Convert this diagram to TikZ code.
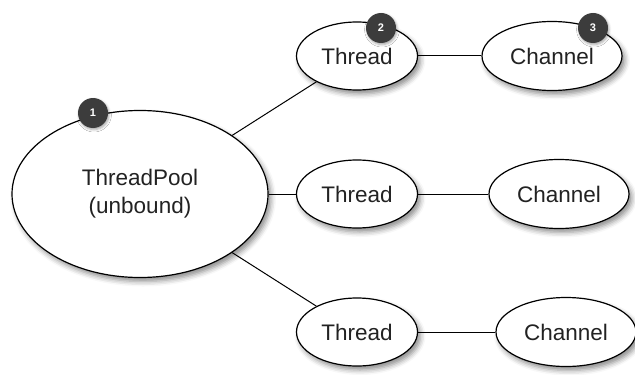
\documentclass[tikz,border=0pt]{standalone}
\usepackage{fontspec}
\setmainfont{Liberation Sans}
\usetikzlibrary{shapes.geometric,shadows.blur}
\definecolor{badgegray}{HTML}{3C3C3C}
\definecolor{inkgray}{HTML}{222222}
\tikzset{
  bubble/.style={ellipse, draw=black, line width=0.6pt, fill=white, text=inkgray,
    inner sep=0pt, font=\fontsize{11.25}{14}\selectfont,
    blur shadow={shadow xshift=1.5pt, shadow yshift=-2pt, shadow blur radius=2.5pt, shadow opacity=45}},
  threadnode/.style={bubble, minimum width=60.5pt, minimum height=34pt},
  channode/.style={bubble, minimum width=70pt, minimum height=34.5pt},
  badge/.style={circle, fill=badgegray, text=white, minimum size=15pt, inner sep=0pt,
    font=\fontsize{5.5}{6}\bfseries\selectfont,
    blur shadow={shadow xshift=0.5pt, shadow yshift=-0.8pt, shadow blur radius=1.2pt, shadow opacity=35}},
  link/.style={draw=black, line width=0.5pt}
}
\begin{document}
\begin{tikzpicture}[x=0.5pt,y=-0.5pt]
        \useasboundingbox (0,0) rectangle (635,374);
        \node[bubble, minimum width=128pt, minimum height=83.5pt, align=center] (P) at (140,194) {ThreadPool\\(unbound)};
        \foreach \i/\y/\cx in {1/56/552,2/194/559,3/332/566}{%
            \node[threadnode] (T\i) at (357,\y) {Thread};
            \node[channode] (C\i) at (\cx,\y) {Channel};}
        \foreach \i in {1,2,3}{%
            \draw[link] (P) -- (T\i);
            \draw[link] (T\i) -- (C\i);}
        \node[badge] (B1) at (93,113) {1};
        \node[badge] (B2) at (381,28) {2};
        \node[badge] (B3) at (593,28) {3};
    \end{tikzpicture}
\end{document}
